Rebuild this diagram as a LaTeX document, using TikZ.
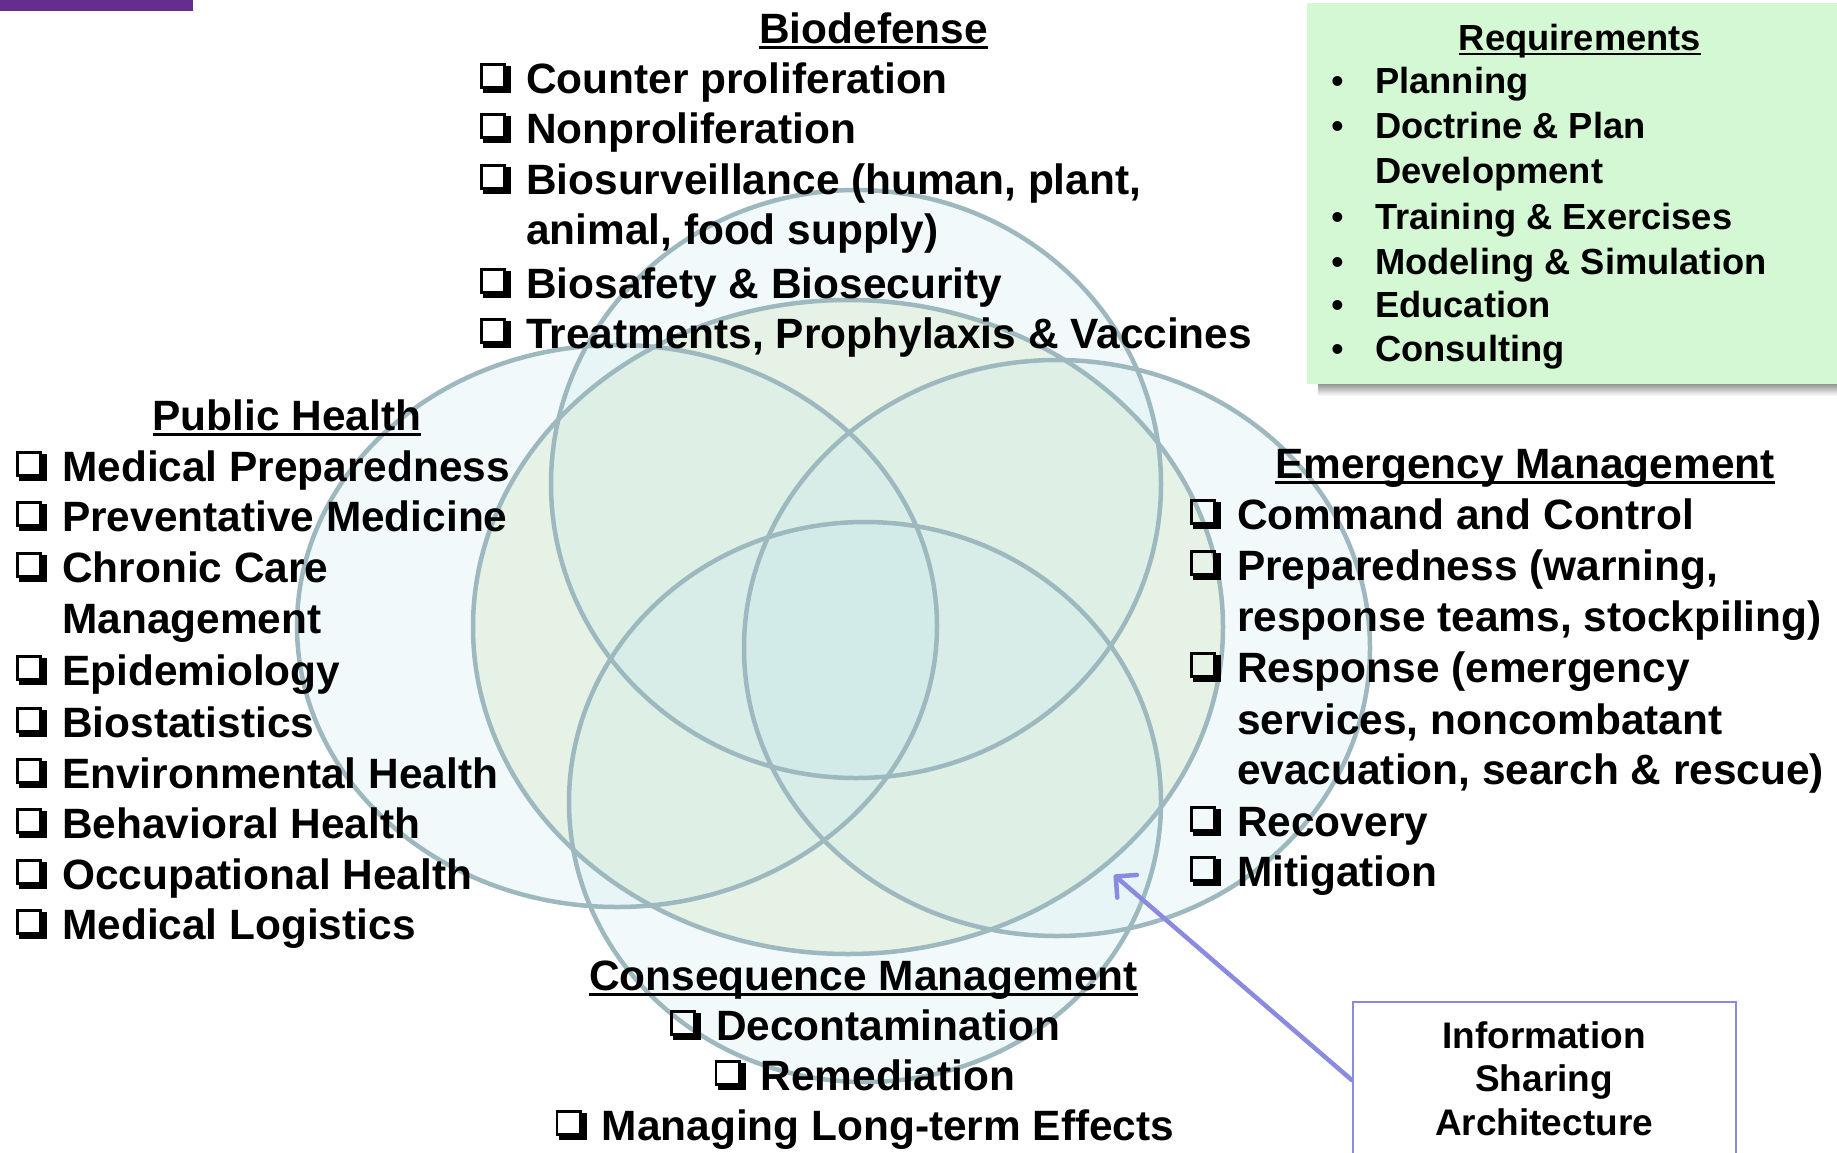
\documentclass[tikz,border=0pt]{standalone}
\usepackage{fontspec}
\setmainfont{Liberation Sans}
\usetikzlibrary{calc,arrows.meta}
\definecolor{ring}{RGB}{157,184,190}
\definecolor{bluef}{RGB}{200,232,235}
\definecolor{yellowf}{RGB}{241,246,228}
\definecolor{reqg}{RGB}{212,247,212}
\definecolor{arrowc}{RGB}{138,138,224}
\definecolor{purp}{RGB}{102,45,145}
\tikzset{
  big/.style={inner sep=0pt, anchor=base west, font=\bfseries\fontsize{42.4}{50}\selectfont},
  bigc/.style={big, anchor=base},
  small/.style={inner sep=0pt, anchor=base west, font=\bfseries\fontsize{36.3}{44}\selectfont},
  smallc/.style={small, anchor=base},
  infotext/.style={inner sep=0pt, anchor=base, font=\bfseries\fontsize{37}{44}\selectfont},
  ulbar/.style={line width=3pt},
  bluecirc/.style={fill=bluef, fill opacity=0.25},
  ringline/.style={draw=ring, line width=4.5pt},
  chk/.pic={
    \draw[line width=2.8pt] (1.4,-28.6) rectangle (24.6,-5.4);
    \fill (3,-5.5) rectangle (31,0);
    \fill (25,-27) rectangle (31,0);
  }
}
\begin{document}
\begin{tikzpicture}[x=1pt,y=-1pt]
\useasboundingbox (0,0) rectangle (1837,1152);
% purple bar
\fill[purp] (0,0) rectangle (193,11);
% requirements box
\shade[top color=black!45, bottom color=white] (1318,383) rectangle (1840,396);
\fill[reqg] (1307,3) rectangle (1840,384);
% circles: fills
\fill[yellowf] (848,627) ellipse [x radius=375, y radius=327];
\fill[bluecirc] (856,484) ellipse [x radius=305, y radius=294];
\fill[bluecirc] (617,626) ellipse [x radius=320, y radius=281];
\fill[bluecirc] (1057,648) ellipse [x radius=313, y radius=288];
\fill[bluecirc] (865,802) ellipse [x radius=296, y radius=280];
% circles: outlines
\draw[ringline] (848,627) ellipse [x radius=375, y radius=327];
\draw[ringline] (856,484) ellipse [x radius=305, y radius=294];
\draw[ringline] (617,626) ellipse [x radius=320, y radius=281];
\draw[ringline] (1057,648) ellipse [x radius=313, y radius=288];
\draw[ringline] (865,802) ellipse [x radius=296, y radius=280];

% Biodefense
\node[bigc] (bdt) at (873.5,43) {Biodefense};
\draw[ulbar] ($(bdt.base west)+(0,4.5)$) -- ($(bdt.base east)+(0,4.5)$);
\node[big] (bd1) at (526,93) {Counter proliferation};
\node[big] (bd2) at (526,143) {Nonproliferation};
\node[big] (bd3) at (526,194) {Biosurveillance (human, plant,};
\node[big] (bd4) at (526,244) {animal, food supply)};
\node[big] (bd5) at (526,298) {Biosafety \& Biosecurity};
\node[big] (bd6) at (526,348) {Treatments, Prophylaxis \& Vaccines};
\foreach \y in {93,143,194,298,348} \pic at (480,\y) {chk};

% Public Health
\node[bigc] (pht) at (287,430) {Public Health};
\draw[ulbar] ($(pht.base west)+(0,4.5)$) -- ($(pht.base east)+(0,4.5)$);
\node[big] (ph1) at (62,481) {Medical Preparedness};
\node[big] (ph2) at (62,531) {Preventative Medicine};
\node[big] (ph3) at (62,582) {Chronic Care};
\node[big] (ph4) at (62,633) {Management};
\node[big] (ph5) at (62,685) {Epidemiology};
\node[big] (ph6) at (62,737) {Biostatistics};
\node[big] (ph7) at (62,788) {Environmental Health};
\node[big] (ph8) at (62,838) {Behavioral Health};
\node[big] (ph9) at (62,889) {Occupational Health};
\node[big] (ph10) at (62,939) {Medical Logistics};
\foreach \y in {481,531,582,685,737,788,838,889,939} \pic at (16,\y) {chk};

% Emergency Management
\node[bigc] (emt) at (1525,478) {Emergency Management};
\draw[ulbar] ($(emt.base west)+(0,4.5)$) -- ($(emt.base east)+(0,4.5)$);
\node[big] (em1) at (1237,529) {Command and Control};
\node[big] (em2) at (1237,580) {Preparedness (warning,};
\node[big] (em3) at (1237,631) {response teams, stockpiling)};
\node[big] (em4) at (1237,682) {Response (emergency};
\node[big] (em5) at (1237,734) {services, noncombatant};
\node[big] (em6) at (1237,784) {evacuation, search \& rescue)};
\node[big] (em7) at (1237,836) {Recovery};
\node[big] (em8) at (1237,886) {Mitigation};
\foreach \y in {529,580,682,836,886} \pic at (1190,\y) {chk};

% Consequence Management
\node[bigc] (cmt) at (863.5,990) {Consequence Management};
\draw[ulbar] ($(cmt.base west)+(0,4.5)$) -- ($(cmt.base east)+(0,4.5)$);
\node[bigc] (cm1) at (888,1040) {Decontamination};
\node[bigc] (cm2) at (888,1090) {Remediation};
\node[bigc] (cm3) at (888,1140) {Managing Long-term Effects};
\foreach \n in {cm1,cm2,cm3} \pic at ($(\n.base west)+(-46,0)$) {chk};

% Requirements
\node[smallc] (rqt) at (1580,50) {Requirements};
\draw[line width=2.6pt] ($(rqt.base west)+(0,4)$) -- ($(rqt.base east)+(0,4)$);
\node[small] (rq1) at (1375,93) {Planning};
\node[small] (rq2) at (1375,138) {Doctrine \& Plan};
\node[small] (rq3) at (1375,183) {Development};
\node[small] (rq4) at (1375,229) {Training \& Exercises};
\node[small] (rq5) at (1375,274) {Modeling \& Simulation};
\node[small] (rq6) at (1375,317) {Education};
\node[small] (rq7) at (1375,361) {Consulting};
\node[small, font=\fontsize{36.3}{44}\selectfont] (b1) at (1331,93) {•};
\node[small, font=\fontsize{36.3}{44}\selectfont] (b2) at (1331,138) {•};
\node[small, font=\fontsize{36.3}{44}\selectfont] (b4) at (1331,229) {•};
\node[small, font=\fontsize{36.3}{44}\selectfont] (b5) at (1331,274) {•};
\node[small, font=\fontsize{36.3}{44}\selectfont] (b6) at (1331,317) {•};
\node[small, font=\fontsize{36.3}{44}\selectfont] (b7) at (1331,361) {•};

% Information Sharing Architecture
\node[draw=arrowc, line width=2.5pt, minimum width=383pt, minimum height=156pt, inner sep=0pt] (info) at (1544.5,1080) {};
\node[infotext] (inf1) at (1544,1048) {Information};
\node[infotext] (inf2) at (1544,1091) {Sharing};
\node[infotext] (inf3) at (1544,1135) {Architecture};
\coordinate (tip) at (1114,875);
\draw[arrowc, line width=4.5pt, line cap=round, -{Straight Barb[length=15pt,width=30pt,line width=4.5pt,round]}] (info.west) -- (tip);
\end{tikzpicture}
\end{document}
